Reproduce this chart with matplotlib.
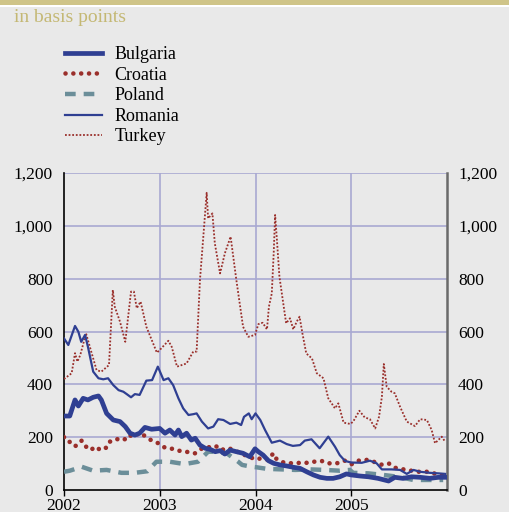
import numpy as np
import matplotlib.pyplot as plt
from matplotlib.patches import Rectangle

plt.rcParams['font.family'] = ['Liberation Serif', 'DejaVu Serif']

# ---- data (decimal years, basis points) ----
turkey_dates = [2002.00, 2002.08, 2002.115, 2002.14, 2002.17, 2002.23, 2002.27, 2002.34, 2002.39, 2002.47,
                2002.51, 2002.53, 2002.585, 2002.64, 2002.70, 2002.73, 2002.76, 2002.80, 2002.86, 2002.97,
                2003.00, 2003.09, 2003.125, 2003.18, 2003.28, 2003.35, 2003.385, 2003.42, 2003.455, 2003.49,
                2003.505, 2003.55, 2003.575, 2003.63, 2003.68, 2003.74, 2003.80, 2003.87, 2003.925, 2003.995,
                2004.03, 2004.075, 2004.12, 2004.14, 2004.17, 2004.19, 2004.205, 2004.225, 2004.25, 2004.285,
                2004.32, 2004.36, 2004.395, 2004.43, 2004.46, 2004.49, 2004.53, 2004.59, 2004.64, 2004.71,
                2004.76, 2004.83, 2004.865, 2004.92, 2004.99, 2005.02, 2005.085, 2005.14, 2005.195, 2005.25,
                2005.29, 2005.32, 2005.34, 2005.37, 2005.42, 2005.455, 2005.51, 2005.58, 2005.665, 2005.72,
                2005.79, 2005.84, 2005.875, 2005.945, 2005.98]
turkey = [420, 442, 518, 486, 511, 593, 542, 454, 448, 473,
          757, 694, 637, 561, 751, 751, 688, 713, 618, 520,
          530, 565, 542, 467, 479, 524, 524, 795, 959, 1125,
          1028, 1047, 934, 820, 896, 959, 795, 618, 580, 587,
          628, 633, 608, 694, 744, 896, 1041, 940, 807, 719,
          631, 650, 608, 637, 656, 593, 517, 498, 442, 423,
          347, 309, 328, 255, 250, 259, 300, 275, 268, 233,
          277, 353, 477, 391, 372, 366, 315, 259, 242, 268,
          265, 227, 177, 202, 183]

romania_dates = [2002.00, 2002.045, 2002.115, 2002.15, 2002.18, 2002.22, 2002.25, 2002.305, 2002.36, 2002.41,
                 2002.46, 2002.515, 2002.57, 2002.62, 2002.655, 2002.70, 2002.74, 2002.79, 2002.86, 2002.92,
                 2002.98, 2003.04, 2003.09, 2003.14, 2003.195, 2003.245, 2003.30, 2003.35, 2003.385, 2003.44,
                 2003.505, 2003.56, 2003.61, 2003.665, 2003.735, 2003.80, 2003.85, 2003.88, 2003.93, 2003.96,
                 2004.00, 2004.05, 2004.10, 2004.17, 2004.255, 2004.325, 2004.39, 2004.465, 2004.515, 2004.585,
                 2004.67, 2004.76, 2004.83, 2004.88, 2004.935, 2005.00, 2005.11, 2005.195, 2005.265, 2005.32,
                 2005.42, 2005.51, 2005.58, 2005.65, 2005.72, 2005.82, 2005.91, 2005.98]
romania = [574, 549, 621, 599, 561, 587, 542, 448, 423, 419,
           423, 397, 378, 372, 363, 351, 363, 360, 414, 416,
           467, 416, 423, 397, 347, 309, 284, 287, 290, 259,
           233, 240, 268, 265, 250, 255, 246, 277, 290, 268,
           290, 265, 227, 179, 187, 174, 167, 170, 187, 192,
           158, 202, 164, 132, 110, 104, 103, 111, 101, 78,
           78, 76, 61, 76, 69, 65, 63, 61]

bulgaria_dates = [2002.00, 2002.06, 2002.115, 2002.15, 2002.20, 2002.25, 2002.305, 2002.36, 2002.39, 2002.445,
                  2002.515, 2002.585, 2002.64, 2002.69, 2002.74, 2002.79, 2002.845, 2002.915, 2003.00, 2003.055,
                  2003.105, 2003.16, 2003.195, 2003.23, 2003.28, 2003.33, 2003.37, 2003.42, 2003.475, 2003.525,
                  2003.58, 2003.63, 2003.68, 2003.735, 2003.80, 2003.87, 2003.94, 2003.995, 2004.03, 2004.08,
                  2004.135, 2004.19, 2004.255, 2004.325, 2004.395, 2004.465, 2004.535, 2004.605, 2004.675, 2004.745,
                  2004.81, 2004.88, 2004.95, 2005.00, 2005.09, 2005.18, 2005.28, 2005.39, 2005.455, 2005.54,
                  2005.63, 2005.72, 2005.82, 2005.91, 2005.98]
bulgaria = [280, 280, 341, 318, 347, 341, 351, 356, 341, 290,
            265, 259, 240, 215, 208, 215, 237, 230, 233, 215,
            227, 208, 227, 202, 215, 189, 196, 170, 158, 154,
            145, 149, 136, 151, 145, 139, 126, 156, 145, 132,
            111, 101, 95, 91, 86, 82, 69, 57, 48, 44,
            44, 50, 61, 57, 53, 50, 44, 34, 48, 44,
            50, 48, 44, 48, 48]

croatia_dates = [2002.00, 2002.035, 2002.08, 2002.125, 2002.185, 2002.235, 2002.28, 2002.325, 2002.383, 2002.452,
                 2002.48, 2002.543, 2002.627, 2002.672, 2002.731, 2002.794, 2002.846, 2002.916, 2002.985, 2003.055,
                 2003.13, 2003.21, 2003.288, 2003.368, 2003.444, 2003.514, 2003.584, 2003.64, 2003.71, 2003.78,
                 2003.855, 2003.918, 2003.995, 2004.065, 2004.134, 2004.186, 2004.22, 2004.30, 2004.387, 2004.47,
                 2004.55, 2004.61, 2004.69, 2004.76, 2004.848, 2004.935, 2005.005, 2005.075, 2005.163, 2005.243,
                 2005.313, 2005.39, 2005.46, 2005.547, 2005.627, 2005.703, 2005.80, 2005.885, 2005.965]
croatia = [200, 196, 170, 167, 187, 162, 151, 164, 151, 162,
           183, 193, 189, 208, 202, 217, 204, 187, 177, 160,
           156, 148, 144, 139, 158, 162, 167, 151, 159, 151,
           136, 129, 116, 120, 114, 139, 117, 103, 101, 103,
           103, 107, 110, 101, 101, 111, 98, 111, 114, 106,
           96, 101, 84, 78, 73, 69, 69, 61, 53]

poland_dates = [2002.00, 2002.06, 2002.185, 2002.305, 2002.445, 2002.60, 2002.74, 2002.87, 2002.965, 2003.105,
                2003.26, 2003.40, 2003.505, 2003.56, 2003.70, 2003.82, 2003.86, 2003.96, 2004.01, 2004.12,
                2004.275, 2004.415, 2004.57, 2004.725, 2004.88, 2004.985, 2005.02, 2005.178, 2005.335, 2005.49,
                2005.648, 2005.805, 2005.96]
poland = [69, 73, 88, 73, 76, 65, 65, 71, 107, 107,
          98, 107, 145, 145, 139, 107, 95, 88, 86, 80,
          78, 76, 78, 76, 73, 76, 65, 63, 57, 50,
          38, 38, 38]

year_ticks = [2002, 2003, 2004, 2005]
y_ticks = [0, 200, 400, 600, 800, 1000, 1200]

# ---- style ----
bg = '#e9e9e9'
blue = '#2f3f92'
red = '#9a2f2b'
grey_blue = '#6b8e99'
grid_col = '#a9a9d2'

W, H = 509, 512
fig = plt.figure(figsize=(W / 100, H / 100), dpi=100, facecolor=bg)

# top band
fig.patches.append(Rectangle((0, 1 - 4.5 / H), 1, 4.5 / H, transform=fig.transFigure,
                             facecolor='#cfc488', edgecolor='none'))
fig.patches.append(Rectangle((0, 1 - 6.5 / H), 1, 2 / H, transform=fig.transFigure,
                             facecolor='white', edgecolor='none'))
fig.text(14 / W, 1 - 18 / H, 'in basis points', color='#c4b874', fontsize=14, va='center', ha='left')

left, right, top, bottom = 64, 447, 173, 490
ax = fig.add_axes([left / W, 1 - bottom / H, (right - left) / W, (bottom - top) / H])
ax.set_facecolor(bg)

ax.plot(turkey_dates, turkey, color=red, lw=1.3, linestyle=(0, (1, 1)), label='Turkey', zorder=3)
ax.plot(poland_dates, poland, color=grey_blue, lw=3.2, linestyle=(0, (2.4, 1.8)), label='Poland', zorder=3)
ax.plot(croatia_dates, croatia, color=red, lw=3.3, linestyle=(0, (0.01, 1.7)),
        dash_capstyle='round', label='Croatia', zorder=4)
ax.plot(romania_dates, romania, color=blue, lw=1.6, label='Romania', zorder=5)
ax.plot(bulgaria_dates, bulgaria, color=blue, lw=3.4, label='Bulgaria', zorder=5)

ax.set_xlim(2002, 2006)
ax.set_ylim(0, 1200)
ax.set_yticks(y_ticks)
ax.set_yticklabels([f'{v:,}' for v in y_ticks])
ax.set_xticks(year_ticks)
ax.set_xticklabels([str(y) for y in year_ticks])
ax.tick_params(axis='y', length=0, pad=8, labelsize=12.5)
ax.tick_params(axis='x', length=4, width=1, direction='out', pad=2, labelsize=12.5)

for v in y_ticks[1:]:
    ax.axhline(v, color=grid_col, lw=1.2, zorder=1)
for yr in year_ticks[1:]:
    ax.axvline(yr, color=grid_col, lw=1.2, zorder=1)

ax.spines['top'].set_visible(False)
ax.spines['left'].set_color('black')
ax.spines['left'].set_linewidth(1.2)
ax.spines['bottom'].set_color('black')
ax.spines['bottom'].set_linewidth(1.2)
ax.spines['right'].set_color('#6a6a6a')
ax.spines['right'].set_linewidth(1.8)

ax2 = ax.twinx()
ax2.set_ylim(0, 1200)
ax2.set_yticks(y_ticks)
ax2.set_yticklabels([f'{v:,}' for v in y_ticks])
ax2.tick_params(axis='y', length=0, pad=8, labelsize=12.5)
for s in ['top', 'left', 'bottom', 'right']:
    ax2.spines[s].set_visible(False)

# legend in the order of the reference
handles, labels = ax.get_legend_handles_labels()
order = ['Bulgaria', 'Croatia', 'Poland', 'Romania', 'Turkey']
hmap = dict(zip(labels, handles))
fig.legend([hmap[k] for k in order], order, loc='upper left',
           bbox_to_anchor=(56 / W, 1 - 37 / H), frameon=False, fontsize=13,
           handlelength=2.05, handletextpad=0.7, labelspacing=0.2, borderpad=0)

fig.savefig('out.png', dpi=100, facecolor=bg)
